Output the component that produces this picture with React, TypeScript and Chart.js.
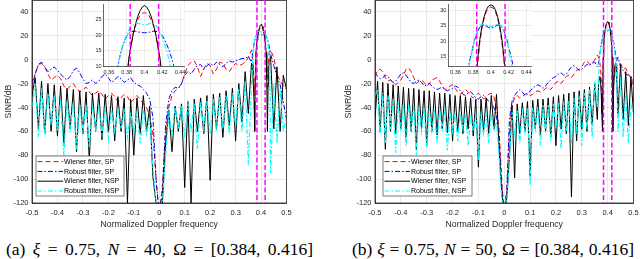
import React, { useEffect, useRef } from "react";
import { Chart, registerables } from "chart.js";

Chart.register(...registerables);

// ---------------- axis ticks ----------------
const mainXTicks = [-0.5, -0.4, -0.3, -0.2, -0.1, 0, 0.1, 0.2, 0.3, 0.4, 0.5];
const mainXTickLabels = ["-0.5", "-0.4", "-0.3", "-0.2", "-0.1", "0", "0.1", "0.2", "0.3", "0.4", "0.5"];
const mainYTicks = [-120, -100, -80, -60, -40, -20, 0, 20, 40];
const mainYTickLabels = ["-120", "-100", "-80", "-60", "-40", "-20", "0", "20", "40"];
const insetXTicks = [0.36, 0.38, 0.4, 0.42, 0.44];
const insetXTickLabels = ["0.36", "0.38", "0.4", "0.42", "0.44"];
const leftInsetYTicks = [10, 15, 20, 25];
const leftInsetYTickLabels = ["10", "15", "20", "25"];
const rightInsetYTicks = [15, 20, 25, 30];
const rightInsetYTickLabels = ["15", "20", "25", "30"];
const passbandEdges = [0.384, 0.416];
const legendLabels = ["Wiener filter, SP", "Robust filter, SP", "Wiener filter, NSP", "Robust filter, NSP"];
const captionLeft = { tag: "(a)", xi: "0.75", n: "40", omega: "[0.384, 0.416]" };
const captionRight = { tag: "(b)", xi: "0.75", n: "50", omega: "[0.384, 0.416]" };

// ---------------- panel (a): N = 40 ----------------
const leftFreq = [
  -0.5, -0.4875, -0.475, -0.4625, -0.45, -0.4375, -0.425, -0.4125, -0.4, -0.3875,
  -0.375, -0.3625, -0.35, -0.3375, -0.325, -0.3125, -0.3, -0.2875, -0.275, -0.2625,
  -0.25, -0.2375, -0.225, -0.2125, -0.2, -0.1875, -0.175, -0.1625, -0.15, -0.1375,
  -0.125, -0.1125, -0.1, -0.0875, -0.075, -0.0625, -0.05, -0.0375, -0.025, -0.0125,
  0, 0.0125, 0.025, 0.0375, 0.05, 0.0625, 0.075, 0.0875, 0.1, 0.1125,
  0.125, 0.1375, 0.15, 0.1625, 0.175, 0.1875, 0.2, 0.2125, 0.225, 0.2375,
  0.25, 0.2625, 0.275, 0.2875, 0.3, 0.3125, 0.325, 0.3375, 0.35, 0.3625,
  0.4375, 0.45, 0.4625, 0.475, 0.4875, 0.5,
];
const leftWienerSP = [
  -23, -12, -4, -3, -6, -12, -17, -15, -13, -16,
  -22, -25, -22, -20, -24, -27, -25, -23, -27, -30,
  -28, -26, -29, -33, -30, -28, -31, -35, -32, -29,
  -31, -36, -33, -30, -33, -37, -40, -48, -62, -100,
  -130, -105, -60, -40, -30, -26, -24, -20, -12, -5,
  -2, -1, -6, -14, -8, -3, -5, -12, -8, -2,
  -3, -8, -10, -6, -3, -5, -4, -2, 2, 8,
  8, 2, -12, -18, -22, -25,
];
const leftRobustSP = [
  -20, -12, -4, -2, -6, -10, -8, -6, -9, -12,
  -15, -17, -14, -9, -7, -11, -16, -20, -19, -17,
  -20, -18, -14, -12, -15, -19, -17, -14, -16, -19,
  -17, -15, -19, -21, -22, -25, -28, -33, -48, -100,
  -130, -110, -55, -33, -26, -23, -24, -20, -13, -10,
  -12, -8, -5, -4, -8, -5, -3, -5, -2, -4,
  -6, -3, -1, -2, -1, 0, 1, 1, 3, -2,
  5, -5, -14, -21, -35, -50,
];
const leftWienerNSP = [
  -30, -15, -58, -18, -62, -20, -60, -21, -64, -22,
  -70, -24, -58, -25, -77, -26, -62, -27, -84, -28,
  -60, -28, -67, -29, -60, -30, -68, -31, -60, -32,
  -120, -33, -80, -32, -62, -30, -60, -39, -98, -120,
  -130, -120, -70, -42, -77, -39, -60, -37, -107, -35,
  -120, -33, -60, -32, -62, -30, -101, -29, -58, -28,
  -65, -26, -55, -24, -68, -20, -52, -10, -45, -3,
  2.5, -58, -6, -60, -13, -25,
];
const leftRobustNSP = [
  -40, -20, -65, -24, -63, -28, -55, -30, -60, -33,
  -80, -35, -58, -36, -75, -38, -60, -38, -73, -40,
  -58, -40, -62, -41, -67, -42, -60, -42, -58, -43,
  -65, -44, -60, -44, -70, -42, -62, -50, -90, -120,
  -130, -120, -80, -45, -62, -40, -58, -38, -65, -37,
  -60, -36, -75, -35, -58, -34, -62, -33, -60, -31,
  -58, -30, -62, -28, -56, -24, -60, -18, -88, -20,
  -95, -20, -70, -25, -60, -48,
];
// main-lobe detail (also shown in the inset)
const leftLobeFreq = [
  0.365, 0.3675, 0.37, 0.3725, 0.375, 0.3775, 0.38, 0.3825, 0.385, 0.3875,
  0.39, 0.3925, 0.395, 0.3975, 0.4, 0.4025, 0.405, 0.4075, 0.41, 0.4125,
  0.415, 0.4175, 0.42, 0.4225, 0.425, 0.4275, 0.43, 0.4325, 0.435,
];
const leftLobeWienerSP = [
  5, 0, -8, -20, -30, -10, 5, 12, 17, 20.5,
  23, 25, 26.3, 27, 27.2, 27, 26.3, 25, 23, 20.5,
  16.5, 11, 3, -12, -25, -8, 2, 6, 8,
];
const leftLobeRobustSP = [
  2, 6, 10, 13.3, 16, 18, 19.5, 20.5, 21, 21.2,
  21.2, 21, 20.9, 20.8, 20.7, 20.8, 20.9, 21, 21.2, 21.2,
  21, 20.6, 19.8, 18.6, 17, 15.2, 13, 10.6, 8,
];
const leftLobeWienerNSP = [
  -5, -12, -22, -35, -60, -15, 6, 12.5, 16.5, 20.5,
  23.5, 26, 27.8, 29, 29.5, 29, 27.8, 26, 23.5, 20.5,
  16.5, 12.5, 6, -15, -60, -22, -8, -1, 2,
];
const leftLobeRobustNSP = [
  -12, 0, 9, 13, 16, 18.3, 20, 21.5, 22.6, 23.3,
  23.7, 23.8, 23.6, 23.4, 23.3, 23.4, 23.6, 23.8, 23.7, 23.2,
  22.3, 21, 19.3, 17.2, 14.8, 12.2, 9, 2, -10,
];

// ---------------- panel (b): N = 50 ----------------
const rightFreq = [
  -0.5, -0.49, -0.48, -0.47, -0.46, -0.45, -0.44, -0.43, -0.42, -0.41,
  -0.4, -0.39, -0.38, -0.37, -0.36, -0.35, -0.34, -0.33, -0.32, -0.31,
  -0.3, -0.29, -0.28, -0.27, -0.26, -0.25, -0.24, -0.23, -0.22, -0.21,
  -0.2, -0.19, -0.18, -0.17, -0.16, -0.15, -0.14, -0.13, -0.12, -0.11,
  -0.1, -0.09, -0.08, -0.07, -0.06, -0.05, -0.04, -0.03, -0.02, -0.01,
  0, 0.01, 0.02, 0.03, 0.04, 0.05, 0.06, 0.07, 0.08, 0.09,
  0.1, 0.11, 0.12, 0.13, 0.14, 0.15, 0.16, 0.17, 0.18, 0.19,
  0.2, 0.21, 0.22, 0.23, 0.24, 0.25, 0.26, 0.27, 0.28, 0.29,
  0.3, 0.31, 0.32, 0.33, 0.34, 0.35, 0.36,
  0.44, 0.45, 0.46, 0.47, 0.48, 0.49, 0.5,
];
const rightWienerSP = [
  -14, -9, -8, -10, -15, -18, -17, -19, -21, -19,
  -17, -13, -8, -7, -10, -15, -20, -18, -17, -19,
  -22, -20, -17, -16, -15, -18, -22, -25, -24, -22,
  -21, -24, -27, -29, -27, -25, -27, -30, -32, -30,
  -28, -30, -33, -31, -29, -28, -31, -40, -58, -100,
  -130, -110, -60, -38, -32, -30, -32, -31, -29, -28,
  -30, -29, -27, -26, -27, -26, -24, -23, -25, -22,
  -19, -18, -20, -17, -14, -13, -15, -12, -9, -8,
  -6, -2, -1, -4, -3, 0, 4,
  -5, -3, -8, -7, -12, -15, -22,
];
const rightRobustSP = [
  -11, -14, -16, -15, -13, -14, -17, -19, -18, -15,
  -12, -11, -13, -16, -19, -20, -18, -17, -19, -22,
  -21, -20, -22, -24, -25, -24, -23, -25, -26, -25,
  -24, -22, -23, -26, -29, -30, -28, -27, -29, -32,
  -33, -31, -30, -32, -35, -37, -40, -47, -65, -105,
  -130, -108, -50, -35, -30, -27, -25, -27, -30, -29,
  -26, -24, -22, -21, -22, -24, -22, -19, -17, -15,
  -14, -12, -11, -13, -12, -9, -6, -5, -7, -9,
  -8, -6, -4, -5, -3, -2, -6,
  2, -6, -9, -12, -13, -15, -18,
];
const rightWienerNSP = [
  -50, -18, -60, -19, -75, -20, -60, -21, -62, -22,
  -58, -23, -65, -24, -60, -24, -75, -25, -58, -26,
  -72, -26, -60, -27, -63, -28, -58, -28, -61, -29,
  -68, -30, -60, -30, -62, -31, -58, -32, -64, -33,
  -90, -33, -60, -32, -62, -30, -58, -29, -75, -110,
  -130, -115, -82, -38, -99, -37, -62, -36, -60, -35,
  -97, -34, -58, -33, -63, -33, -60, -32, -65, -31,
  -72, -30, -58, -29, -62, -28, -115, -27, -68, -26,
  -58, -25, -60, -23, -55, -20, -50,
  -45, -4, -50, -10, -55, -14, -45,
];
const rightRobustNSP = [
  -30, -25, -62, -28, -70, -30, -58, -33, -78, -35,
  -60, -36, -72, -37, -58, -38, -80, -39, -60, -40,
  -74, -41, -60, -42, -70, -42, -58, -43, -76, -44,
  -60, -44, -68, -45, -58, -45, -72, -46, -60, -46,
  -84, -47, -62, -46, -70, -45, -60, -52, -80, -115,
  -130, -118, -85, -44, -62, -42, -70, -41, -60, -40,
  -105, -40, -58, -39, -72, -38, -60, -38, -68, -37,
  -58, -36, -75, -35, -60, -34, -70, -32, -62, -30,
  -72, -28, -58, -25, -65, -18, -40,
  -60, -15, -65, -28, -70, -38, -45,
];
const rightLobeFreq = [
  0.365, 0.3675, 0.37, 0.3725, 0.375, 0.3775, 0.38, 0.3825, 0.385, 0.3875,
  0.39, 0.3925, 0.395, 0.3975, 0.4, 0.4025, 0.405, 0.4075, 0.41, 0.4125,
  0.415, 0.4175, 0.42, 0.4225, 0.425, 0.4275, 0.43, 0.4325, 0.435,
];
const rightLobeWienerSP = [
  2, 0, -3, -8, -15, -28, -45, -5, 12, 19.5,
  24.3, 27.5, 29.6, 30.7, 31, 30.7, 29.6, 27.4, 24, 19.5,
  13, 0, -40, -20, -10, -5, -3, -3, -4,
];
const rightLobeRobustSP = [
  -3, 0, 5, 9, 12.2, 15.5, 18.5, 21, 23, 24.5,
  25.2, 25.2, 24.8, 24.4, 24.2, 24.4, 24.8, 25.2, 25.2, 24.5,
  23, 21, 18.3, 15.2, 12.3, 9, 5.5, 2, -1,
];
const rightLobeWienerNSP = [
  -20, -16, -14, -18, -28, -45, -60, 2, 14, 20.5,
  25, 28, 30.2, 31.4, 31.7, 31.4, 30.2, 28, 25, 20.5,
  14, 2, -60, -30, -14, -6, -3, -6, -15,
];
const rightLobeRobustNSP = [
  -15, -4, 3, 8, 11.5, 15, 18.5, 21.5, 23.5, 25,
  25.5, 25.5, 25.2, 24.9, 24.7, 24.9, 25.2, 25.5, 25.4, 24.8,
  23.2, 20.8, 17.5, 14, 10.5, 6, 1, -6, -15,
];

// ---------------- helpers ----------------
type Pt = { x: number; y: number };

function toPts(f: number[], v: number[]): Pt[] {
  return f.map((x, i) => ({ x, y: v[i] }));
}
function mergePts(cf: number[], cv: number[], lf: number[], lv: number[]): Pt[] {
  const pts = toPts(cf, cv).concat(toPts(lf, lv));
  pts.sort((a, b) => a.x - b.x);
  return pts;
}

const seriesStyles = [
  { color: "#ff0000", dash: [5, 3], width: 1 },
  { color: "#0000ff", dash: [5, 2, 1.5, 2], width: 1 },
  { color: "#000000", dash: [] as number[], width: 1 },
  { color: "#00ffff", dash: [5, 2, 1.5, 2], width: 1.2 },
];

const AXIS_COLOR = "#262626";
const GRID_COLOR = "#e3e3e3";
const SANS = "'Liberation Sans', Arial, Helvetica, sans-serif";
const SERIF = "'Liberation Serif', 'DejaVu Serif', 'Times New Roman', serif";

function fixedTicks(values: number[]) {
  return (scale: any) => {
    scale.ticks = values.map((v) => ({ value: v }));
  };
}

function makeDatasets(series: Pt[][]) {
  return series.map((data, k) => ({
    data,
    borderColor: seriesStyles[k].color,
    borderWidth: seriesStyles[k].width,
    borderDash: seriesStyles[k].dash,
    pointRadius: 0,
    fill: false,
    tension: 0,
    order: series.length - k,
  }));
}

const edgesPlugin = {
  id: "edges",
  afterDatasetsDraw(chart: any) {
    const { ctx, chartArea } = chart;
    const xs = chart.scales.x;
    ctx.save();
    ctx.beginPath();
    ctx.rect(chartArea.left, chartArea.top, chartArea.right - chartArea.left, chartArea.bottom - chartArea.top);
    ctx.clip();
    ctx.strokeStyle = "#ff00ff";
    ctx.lineWidth = 1.5;
    ctx.setLineDash([5, 2.5]);
    passbandEdges.forEach((f) => {
      const x = xs.getPixelForValue(f);
      ctx.beginPath();
      ctx.moveTo(x, chartArea.top);
      ctx.lineTo(x, chartArea.bottom);
      ctx.stroke();
    });
    ctx.restore();
  },
};

const boxPlugin = {
  id: "axbox",
  afterDatasetsDraw(chart: any) {
    const { ctx, chartArea } = chart;
    ctx.save();
    ctx.strokeStyle = AXIS_COLOR;
    ctx.lineWidth = 0.8;
    ctx.strokeRect(chartArea.left, chartArea.top + 0.4, chartArea.right - chartArea.left, chartArea.bottom - chartArea.top - 0.4);
    ctx.restore();
  },
};

const whitePlugin = {
  id: "whitebg",
  beforeDraw(chart: any) {
    const { ctx, chartArea } = chart;
    ctx.save();
    ctx.fillStyle = "#ffffff";
    ctx.fillRect(chartArea.left, chartArea.top, chartArea.right - chartArea.left, chartArea.bottom - chartArea.top);
    ctx.restore();
  },
};

function legendPlugin(box: { x: number; y: number; w: number; h: number }) {
  return {
    id: "boxlegend",
    afterDraw(chart: any) {
      const { ctx } = chart;
      ctx.save();
      ctx.fillStyle = "#ffffff";
      ctx.fillRect(box.x, box.y, box.w, box.h);
      ctx.strokeStyle = "#444";
      ctx.lineWidth = 0.7;
      ctx.strokeRect(box.x, box.y, box.w, box.h);
      legendLabels.forEach((label, k) => {
        const y = box.y + 5.6 + k * 9.8;
        const st = seriesStyles[k];
        ctx.strokeStyle = st.color;
        ctx.lineWidth = st.width;
        ctx.setLineDash(st.dash);
        ctx.beginPath();
        ctx.moveTo(box.x + 1.5, y);
        ctx.lineTo(box.x + 27, y);
        ctx.stroke();
        ctx.setLineDash([]);
        ctx.fillStyle = "#000";
        ctx.font = `7px ${SANS}`;
        ctx.textBaseline = "middle";
        ctx.textAlign = "left";
        ctx.fillText(label, box.x + 28, y + 0.3);
      });
      ctx.restore();
    },
  };
}

function mainConfig(series: Pt[][], yAxisWidth: number, padRight: number, legendBox: any): any {
  return {
    type: "line",
    data: { datasets: makeDatasets(series) },
    options: {
      animation: false,
      responsive: false,
      events: [],
      layout: { padding: { left: 0, right: padRight, top: 0, bottom: 0 } },
      plugins: { legend: { display: false }, tooltip: { enabled: false } },
      scales: {
        x: {
          type: "linear",
          min: -0.5,
          max: 0.5,
          afterBuildTicks: fixedTicks(mainXTicks),
          afterFit: (s: any) => {
            s.height = 29;
            s.paddingLeft = 0;
            s.paddingRight = 0;
          },
          ticks: {
            callback: (_v: any, i: number) => mainXTickLabels[i],
            autoSkip: false,
            maxRotation: 0,
            font: { size: 7.5, family: SANS },
            color: AXIS_COLOR,
            padding: 5,
          },
          grid: { color: GRID_COLOR, drawTicks: false, lineWidth: 0.8 },
          border: { color: AXIS_COLOR, width: 0.8 },
          title: {
            display: true,
            text: "Normalized Doppler frequency",
            font: { size: 8.7, family: SANS },
            color: AXIS_COLOR,
            padding: { top: 0, bottom: 2 },
          },
        },
        y: {
          type: "linear",
          min: -120,
          max: 50,
          afterBuildTicks: fixedTicks(mainYTicks),
          afterFit: (s: any) => {
            s.width = yAxisWidth;
            s.paddingTop = 0;
            s.paddingBottom = 0;
          },
          ticks: {
            callback: (_v: any, i: number) => mainYTickLabels[i],
            autoSkip: false,
            font: { size: 7.5, family: SANS },
            color: AXIS_COLOR,
            padding: 3.5,
          },
          grid: { color: GRID_COLOR, drawTicks: false, lineWidth: 0.8 },
          border: { color: AXIS_COLOR, width: 0.8 },
          title: {
            display: true,
            text: "SINR/dB",
            font: { size: 8.7, family: SANS },
            color: AXIS_COLOR,
            padding: { top: 3, bottom: 0 },
          },
        },
      },
    },
    plugins: [boxPlugin, edgesPlugin, legendPlugin(legendBox)],
  };
}

function insetConfig(
  series: Pt[][],
  xMin: number,
  xMax: number,
  yMin: number,
  yMax: number,
  yTicks: number[],
  yLabels: string[],
  yAxisWidth: number,
  padRight: number
): any {
  return {
    type: "line",
    data: { datasets: makeDatasets(series) },
    options: {
      animation: false,
      responsive: false,
      events: [],
      layout: { padding: { left: 0, right: padRight, top: 4, bottom: 0 } },
      plugins: { legend: { display: false }, tooltip: { enabled: false } },
      scales: {
        x: {
          type: "linear",
          min: xMin,
          max: xMax,
          afterBuildTicks: fixedTicks(insetXTicks),
          afterFit: (s: any) => {
            s.height = 12;
            s.paddingLeft = 0;
            s.paddingRight = 0;
          },
          ticks: {
            callback: (_v: any, i: number) => insetXTickLabels[i],
            autoSkip: false,
            maxRotation: 0,
            font: { size: 5.5, family: SANS },
            color: AXIS_COLOR,
            padding: 3,
          },
          grid: { color: GRID_COLOR, drawTicks: false, lineWidth: 0.7 },
          border: { color: AXIS_COLOR, width: 0.7 },
        },
        y: {
          type: "linear",
          min: yMin,
          max: yMax,
          afterBuildTicks: fixedTicks(yTicks),
          afterFit: (s: any) => {
            s.width = yAxisWidth;
            s.paddingTop = 0;
            s.paddingBottom = 0;
          },
          ticks: {
            callback: (_v: any, i: number) => yLabels[i],
            autoSkip: false,
            font: { size: 5.5, family: SANS },
            color: AXIS_COLOR,
            padding: 2,
          },
          grid: { color: GRID_COLOR, drawTicks: false, lineWidth: 0.7 },
          border: { color: AXIS_COLOR, width: 0.7 },
        },
      },
    },
    plugins: [whitePlugin, edgesPlugin],
  };
}

function Caption(props: { c: typeof captionLeft; left: number; width: number }) {
  const { c, left, width } = props;
  return (
    <div
      style={{
        position: "absolute",
        left,
        top: 240,
        width,
        fontFamily: SERIF,
        fontSize: 17.5,
        lineHeight: "18px",
        textAlign: "justify",
        textAlignLast: "justify" as any,
        color: "#000",
        whiteSpace: "normal",
      }}
    >
      {c.tag} <i>ξ</i> = {c.xi}, <i>N</i> = {c.n}, Ω = {c.omega}
    </div>
  );
}

export default function App() {
  const leftMain = useRef<HTMLCanvasElement>(null);
  const leftInset = useRef<HTMLCanvasElement>(null);
  const rightMain = useRef<HTMLCanvasElement>(null);
  const rightInset = useRef<HTMLCanvasElement>(null);

  useEffect(() => {
    const leftSeries = [
      mergePts(leftFreq, leftWienerSP, leftLobeFreq, leftLobeWienerSP),
      mergePts(leftFreq, leftRobustSP, leftLobeFreq, leftLobeRobustSP),
      mergePts(leftFreq, leftWienerNSP, leftLobeFreq, leftLobeWienerNSP),
      mergePts(leftFreq, leftRobustNSP, leftLobeFreq, leftLobeRobustNSP),
    ];
    const rightSeries = [
      mergePts(rightFreq, rightWienerSP, rightLobeFreq, rightLobeWienerSP),
      mergePts(rightFreq, rightRobustSP, rightLobeFreq, rightLobeRobustSP),
      mergePts(rightFreq, rightWienerNSP, rightLobeFreq, rightLobeWienerNSP),
      mergePts(rightFreq, rightRobustNSP, rightLobeFreq, rightLobeRobustNSP),
    ];
    const leftLobe = [
      toPts(leftLobeFreq, leftLobeWienerSP),
      toPts(leftLobeFreq, leftLobeRobustSP),
      toPts(leftLobeFreq, leftLobeWienerNSP),
      toPts(leftLobeFreq, leftLobeRobustNSP),
    ];
    const rightLobe = [
      toPts(rightLobeFreq, rightLobeWienerSP),
      toPts(rightLobeFreq, rightLobeRobustSP),
      toPts(rightLobeFreq, rightLobeWienerNSP),
      toPts(rightLobeFreq, rightLobeRobustNSP),
    ];
    const charts: Chart[] = [];
    charts.push(
      new Chart(leftMain.current as HTMLCanvasElement, mainConfig(leftSeries, 32, 13.5, { x: 36, y: 156, w: 88, h: 40 }))
    );
    charts.push(
      new Chart(rightMain.current as HTMLCanvasElement, mainConfig(rightSeries, 35, 6.5, { x: 43, y: 156, w: 89, h: 40 }))
    );
    charts.push(
      new Chart(
        leftInset.current as HTMLCanvasElement,
        insetConfig(leftLobe, 0.354, 0.445, 10, 30, leftInsetYTicks, leftInsetYTickLabels, 15.5, 3.5)
      )
    );
    charts.push(
      new Chart(
        rightInset.current as HTMLCanvasElement,
        insetConfig(rightLobe, 0.352, 0.446, 12, 32, rightInsetYTicks, rightInsetYTickLabels, 14.3, 4.3)
      )
    );
    return () => charts.forEach((c) => c.destroy());
  }, []);

  const abs = (left: number, top: number, w: number, h: number): React.CSSProperties => ({
    position: "absolute",
    left,
    top,
    width: w,
    height: h,
  });

  return (
    <div style={{ position: "absolute", left: 0, top: 0, width: 640, height: 259, background: "#fff", overflow: "hidden" }}>
      <canvas ref={leftMain} width={300} height={232} style={abs(0, 0, 300, 232)} />
      <canvas ref={rightMain} width={300} height={232} style={abs(340, 0, 300, 232)} />
      <canvas ref={leftInset} width={100} height={78} style={abs(88, 0, 100, 78)} />
      <canvas ref={rightInset} width={102} height={78} style={abs(434, 0, 102, 78)} />
      <Caption c={captionLeft} left={6} width={307} />
      <Caption c={captionRight} left={352} width={282} />
    </div>
  );
}
